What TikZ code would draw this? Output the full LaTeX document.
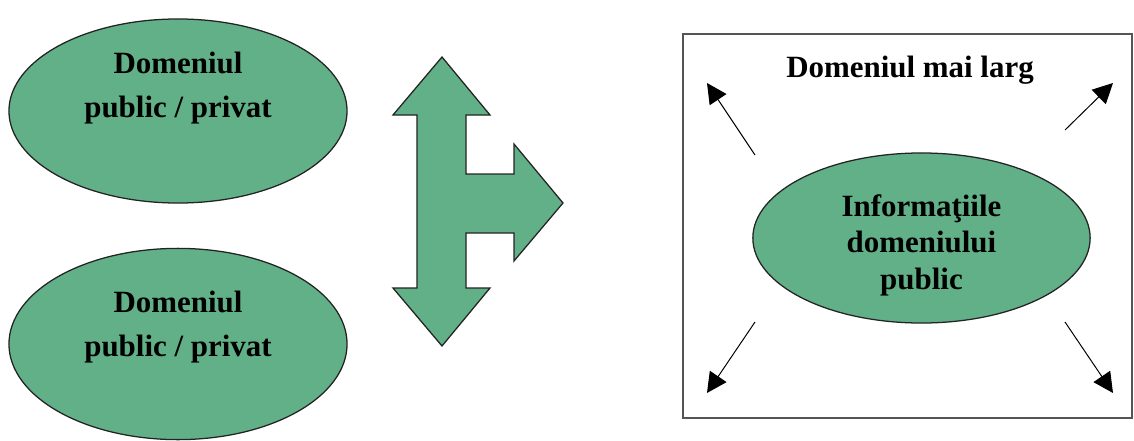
\documentclass[tikz,border=0pt]{standalone}
\usepackage{fontspec}
\setmainfont{Liberation Serif}
\usetikzlibrary{arrows.meta, shapes.geometric, calc}
\definecolor{verde}{RGB}{98,176,136}
\definecolor{contur}{RGB}{35,35,35}
\definecolor{cadrugri}{RGB}{85,85,85}
\tikzset{
  domeniu/.style={
    ellipse, draw=contur, line width=0.9pt, fill=verde,
    inner sep=0pt, outer sep=0pt
  },
  eticheta/.style={font=\fontsize{22}{31}\selectfont\bfseries, align=center, inner sep=0pt},
  etichetaMica/.style={eticheta, font=\fontsize{22}{26}\selectfont\bfseries},
  sageataMare/.style={draw=contur, line width=0.9pt, fill=verde, line join=miter},
  sageata/.style={-{Triangle[length=0.5cm, width=0.5cm]}, line width=0.7pt, black},
}

\begin{document}
\begin{tikzpicture}[x=0.025cm, y=-0.025cm]
        \useasboundingbox (0,0) rectangle (1134,441);

        % cele doua domenii
        \node[domeniu, minimum width=8.45cm, minimum height=4.6cm]  (dom1) at (178,111) {};
        \node[domeniu, minimum width=8.45cm, minimum height=4.78cm] (dom2) at (178,344) {};
        \node[eticheta] (txt1) at ($(dom1)+(0,-23)$) {Domeniul\\public / privat};
        \node[eticheta] (txt2) at ($(dom2)+(0,-17)$) {Domeniul\\public / privat};

        % sageata mare
        \draw[sageataMare] (442,57) -- (490,115) -- (466,115) -- (466,174)
          -- (514,174) -- (514,144) -- (563,203) -- (514,261) -- (514,233)
          -- (466,233) -- (466,288) -- (490,288) -- (442,346) -- (393,288)
          -- (417,288) -- (417,115) -- (393,115) -- cycle;

        % domeniul mai larg
        \node[draw=cadrugri, line width=1.4pt, minimum width=11.2cm, minimum height=9.6cm,
          inner sep=0pt, outer sep=0pt] (cadru) at (907.5,226) {};
        \node[eticheta, anchor=base] (titlu) at (910,77) {Domeniul mai larg};

        \node[domeniu, minimum width=8.43cm, minimum height=4.25cm] (info) at (921.5,238) {};
        \node[etichetaMica] (txt3) at ($(info)+(0,7)$) {Informaţiile\\domeniului\\public};

        \coordinate (s1) at (755,155);  \coordinate (v1) at (707,83);
        \coordinate (s2) at (1065,130); \coordinate (v2) at (1113,83);
        \coordinate (s3) at (755,322);  \coordinate (v3) at (707,393);
        \coordinate (s4) at (1065,322); \coordinate (v4) at (1113,393);

        \draw[sageata] (s1) -- (v1);
        \draw[sageata] (s2) -- (v2);
        \draw[sageata] (s3) -- (v3);
        \draw[sageata] (s4) -- (v4);
      \end{tikzpicture}
\end{document}
